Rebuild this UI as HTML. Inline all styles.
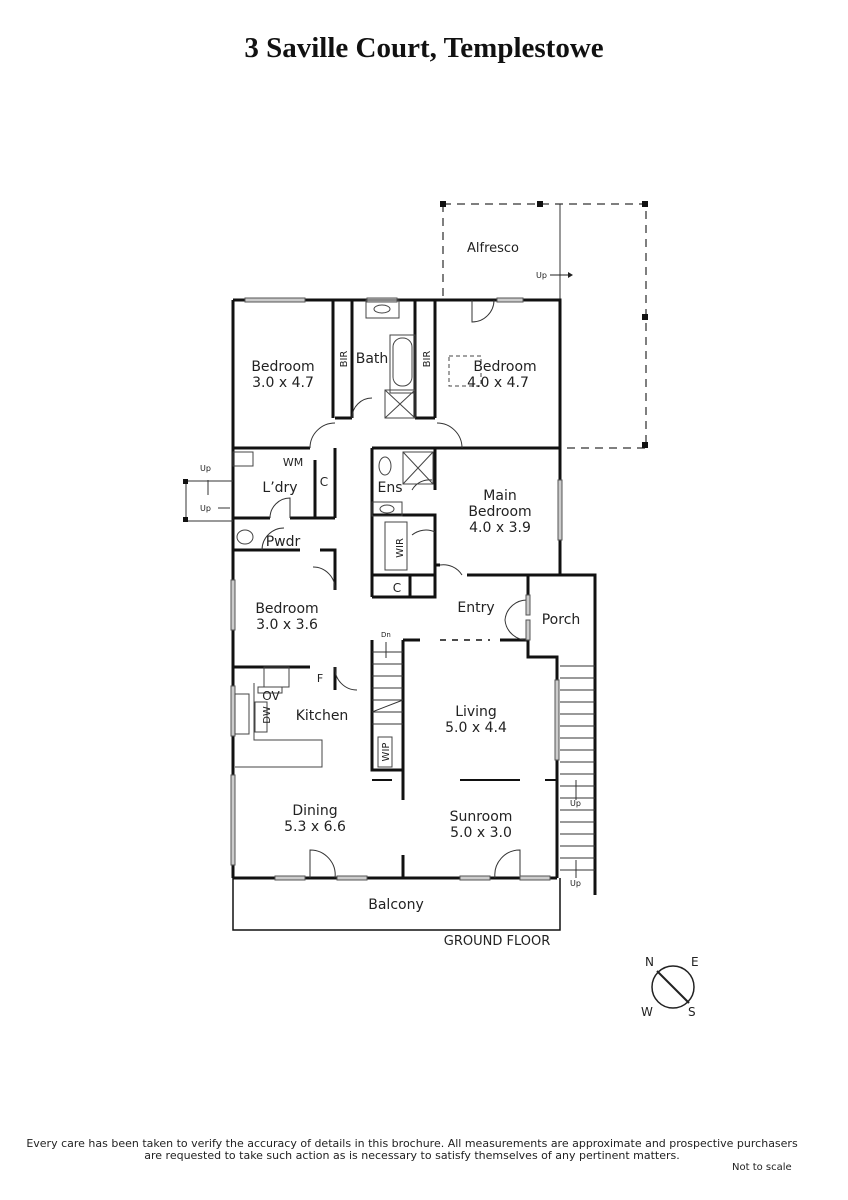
<!DOCTYPE html>
<html><head><meta charset="utf-8"><style>
html,body{margin:0;padding:0;background:#fff;width:848px;height:1200px;overflow:hidden}
svg{display:block}
.t{font-family:"DejaVu Sans","Liberation Sans",sans-serif;fill:#222}
</style></head><body>
<svg width="848" height="1200" viewBox="0 0 848 1200" xmlns="http://www.w3.org/2000/svg">
<text x="424" y="57" text-anchor="middle" font-family="Liberation Serif,serif" font-weight="bold" font-size="29" fill="#111">3 Saville Court, Templestowe</text>

<!-- Alfresco -->
<g stroke="#555" stroke-width="1.5" stroke-dasharray="8,6" fill="none">
<path d="M443 204 H646 V448 H560"/>
<path d="M443 204 V300"/>
</g>
<line x1="560" y1="204" x2="560" y2="300" stroke="#333" stroke-width="1"/>
<g fill="#111">
<rect x="440" y="201" width="6" height="6"/><rect x="537" y="201" width="6" height="6"/><rect x="642" y="201" width="6" height="6"/>
<rect x="642" y="314" width="6" height="6"/><rect x="642" y="442" width="6" height="6"/>
</g>
<text class="t" x="467" y="252" font-size="13">Alfresco</text>
<text class="t" x="536" y="278" font-size="8">Up</text>
<line x1="550" y1="275" x2="568" y2="275" stroke="#222"/><path d="M568 272 L573 275 L568 278Z" fill="#222"/>

<g stroke="#111" stroke-width="3" fill="none">
<path d="M233 300 H560 V448"/>
<path d="M233 300 V878"/>
<path d="M233 448 H310"/><path d="M462 448 H560"/>
<path d="M335 448 V518"/><path d="M372 448 V597"/>
<path d="M352 300 V418 M415 300 V418 M335 418 H352 M415 418 H435 M333 300 V418 M435 300 V418"/>
<path d="M233 518 H270 M290 518 H335 M315 460 V518"/>
<path d="M233 550 H300 M320 550 H335 V590"/>
<path d="M372 448 H560 V575 H467 M435 448 V490 M372 515 H435 V548 M372 575 H435 V515"/>
<path d="M435 575 V515 M435 565 H440 M410 575 V597 H435 V575 M372 597 H410"/>
<path d="M528 575 H595 V895 M528 575 V600 M528 640 V657 H557 V878"/>
<path d="M403 640 H420 M500 640 H528"/>
<path d="M372 640 V770 H403 V640"/>
<path d="M233 667 H310 M335 667 V690"/>
<path d="M233 878 H557"/>
<path d="M403 770 V800 M403 855 V878"/>
<path d="M233 878 V930 H560 V878" stroke-width="1.5"/>
</g>
<g stroke="#111" stroke-width="2" fill="none">
<path d="M372 780 H392" />
<path d="M460 780 H520 M545 780 H557"/>
<path d="M440 640 H490" stroke-dasharray="6,6" stroke-width="1.5"/>
</g>
<g stroke="#333" stroke-width="1" fill="none">
<path d="M310 448 A25 25 0 0 1 335 423"/>
<path d="M437 423 A25 25 0 0 1 462 448"/>
<path d="M472 300 V322 A22 22 0 0 0 494 300"/>
<path d="M352 418 A20 20 0 0 1 372 398"/>
<path d="M270 518 A20 20 0 0 1 290 498 V518"/>
<path d="M262 550 A22 22 0 0 1 284 528"/>
<path d="M313 567 A22 22 0 0 1 335 590"/>
<path d="M335 667 A22 22 0 0 0 357 690"/>
<path d="M440 565 A22 22 0 0 1 462 575"/>
<path d="M412 535 A22 22 0 0 1 435 532"/>
<path d="M528 600 A22 22 0 0 0 505 620 A22 22 0 0 0 528 640"/>
<path d="M310 878 V850 A25 25 0 0 1 335 878"/>
<path d="M495 878 A25 25 0 0 1 520 850 V878"/>
<path d="M412 490 A20 20 0 0 1 432 480"/>
</g>
<g stroke="#333" stroke-width="1">
<path d="M372 652 H403 M372 664 H403 M372 676 H403 M372 688 H403 M372 700 H403 M372 712 H403 M372 724 H403"/>
<path d="M372 712 L403 700"/>
<path d="M560 666 H595 M560 678 H595 M560 690 H595 M560 702 H595 M560 714 H595 M560 726 H595 M560 738 H595 M560 750 H595 M560 762 H595 M560 774 H595 M560 786 H595 M560 798 H595 M560 810 H595 M560 822 H595 M560 834 H595 M560 846 H595 M560 858 H595 M560 870 H595"/>
<path d="M386 642 V658"/><path d="M576 780 V800 M576 860 V878"/>
</g>
<text class="t" x="381" y="637" font-size="7">Dn</text>
<text class="t" x="570" y="806" font-size="8">Up</text>
<text class="t" x="570" y="886" font-size="8">Up</text>
<g fill="#ccc" stroke="#555" stroke-width="1">
<rect x="245" y="298" width="60" height="4"/><rect x="367" y="298" width="30" height="4"/><rect x="497" y="298" width="26" height="4"/>
<rect x="558" y="480" width="4" height="60"/><rect x="231" y="580" width="4" height="50"/>
<rect x="231" y="686" width="4" height="50"/><rect x="231" y="775" width="4" height="90"/>
<rect x="555" y="680" width="4" height="80"/>
<rect x="275" y="876" width="30" height="4"/><rect x="337" y="876" width="30" height="4"/>
<rect x="460" y="876" width="30" height="4"/><rect x="520" y="876" width="30" height="4"/>
<rect x="526" y="595" width="4" height="20"/><rect x="526" y="620" width="4" height="20"/>
</g>
<g stroke="#444" stroke-width="1" fill="none">
<rect x="366" y="300" width="33" height="18"/><ellipse cx="382" cy="309" rx="8" ry="4"/>
<rect x="390" y="335" width="25" height="58"/><rect x="393" y="338" width="19" height="48" rx="9"/>
<rect x="385" y="390" width="30" height="28"/><path d="M385 390 L415 418 M415 390 L385 418"/>
<rect x="403" y="452" width="30" height="32"/><path d="M403 452 L433 484 M433 452 L403 484"/>
<ellipse cx="385" cy="466" rx="6" ry="9"/><rect x="372" y="502" width="30" height="14"/><ellipse cx="387" cy="509" rx="7" ry="4"/>
<rect x="385" y="522" width="22" height="48"/>
<rect x="233" y="452" width="20" height="14"/>
<ellipse cx="245" cy="537" rx="8" ry="7"/>
<rect x="264" y="667" width="25" height="20"/><rect x="258" y="687" width="24" height="6"/>
<path d="M254 683 V740 H322 V767 H235"/>
<rect x="235" y="694" width="14" height="40"/><rect x="255" y="702" width="12" height="30"/>
<rect x="378" y="737" width="14" height="30"/>
<rect x="449" y="356" width="32" height="30" stroke-dasharray="4,3"/>
</g>
<g stroke="#333" stroke-width="1" fill="none"><path d="M186 481 H233 M186 521 H233 M186 481 V521"/><path d="M208 480 V495"/><path d="M218 508 H230"/></g>
<rect x="183" y="479" width="5" height="5" fill="#111"/><rect x="183" y="517" width="5" height="5" fill="#111"/>
<text class="t" x="200" y="471" font-size="8">Up</text><text class="t" x="200" y="511" font-size="8">Up</text>

<g class="t" font-size="14" text-anchor="middle">
<text x="283" y="371">Bedroom</text><text x="283" y="387">3.0 x 4.7</text>
<text x="372" y="363">Bath</text>
<text x="505" y="371">Bedroom</text><text x="498" y="387">4.0 x 4.7</text>
<text x="293" y="466" font-size="11">WM</text>
<text x="280" y="492">L’dry</text><text x="324" y="486" font-size="12">C</text>
<text x="283" y="546">Pwdr</text>
<text x="390" y="492">Ens</text>
<text x="500" y="500">Main</text><text x="500" y="516">Bedroom</text><text x="500" y="532">4.0 x 3.9</text>
<text x="397" y="592" font-size="12">C</text>
<text x="476" y="612">Entry</text><text x="561" y="624">Porch</text>
<text x="287" y="613">Bedroom</text><text x="287" y="629">3.0 x 3.6</text>
<text x="320" y="682" font-size="11">F</text><text x="271" y="700" font-size="12">OV</text>
<text x="322" y="720">Kitchen</text>
<text x="476" y="716">Living</text><text x="476" y="732">5.0 x 4.4</text>
<text x="315" y="815">Dining</text><text x="315" y="831">5.3 x 6.6</text>
<text x="481" y="821">Sunroom</text><text x="481" y="837">5.0 x 3.0</text>
<text x="396" y="909">Balcony</text>
<text x="497" y="945" font-size="13">GROUND FLOOR</text>
</g>
<g class="t" font-size="10" text-anchor="middle">
<text transform="translate(347,359) rotate(-90)">BIR</text>
<text transform="translate(430,359) rotate(-90)">BIR</text>
<text transform="translate(403,548) rotate(-90)">WIR</text>
<text transform="translate(270,715) rotate(-90)">DW</text>
<text transform="translate(389,752) rotate(-90)">WIP</text>
</g>
<circle cx="673" cy="987" r="21" fill="none" stroke="#222" stroke-width="1.5"/>
<line x1="657" y1="971" x2="689" y2="1003" stroke="#222" stroke-width="2"/>
<g class="t" font-size="12"><text x="645" y="966">N</text><text x="691" y="966">E</text><text x="641" y="1016">W</text><text x="688" y="1016">S</text></g>

<g class="t" font-size="11" text-anchor="middle">
<text x="412" y="1147">Every care has been taken to verify the accuracy of details in this brochure.  All measurements are approximate and prospective purchasers</text>
<text x="412" y="1159">are requested to take such action as is necessary to satisfy themselves of any pertinent matters.</text>
</g>
<text class="t" x="732" y="1170" font-size="10">Not to scale</text>
</svg>
</body></html>
